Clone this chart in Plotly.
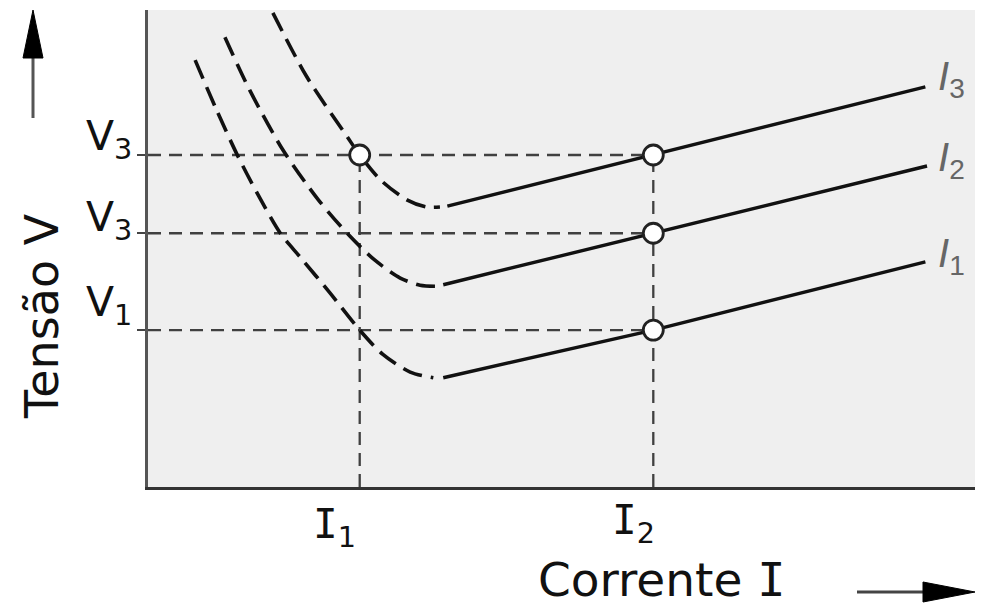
import plotly.graph_objects as go

# ---- data (arbitrary units: current 0..10, voltage 0..10) ----
I1, I2 = 2.56, 6.11
V1, V2, V3 = 3.29, 5.32, 6.96

# curve I3
i3_dash_x = [1.51, 1.92, 2.41, 2.56, 2.81, 3.13, 3.37, 3.53]
i3_dash_y = [9.94, 8.60, 7.34, 6.96, 6.44, 6.02, 5.87, 5.87]
i3_solid_x = [3.62, 6.11, 9.40]
i3_solid_y = [5.89, 6.96, 8.39]
# curve I2
i2_dash_x = [0.93, 1.23, 1.63, 2.06, 2.44, 2.74, 3.05, 3.29, 3.47]
i2_dash_y = [9.43, 8.32, 7.07, 6.02, 5.26, 4.76, 4.38, 4.23, 4.21]
i2_solid_x = [3.57, 6.11, 9.42]
i2_solid_y = [4.24, 5.32, 6.73]
# curve I1
i1_dash_x = [0.57, 0.83, 1.08, 1.32, 1.60, 1.84, 2.20, 2.56, 2.84, 3.17, 3.45]
i1_dash_y = [8.95, 7.90, 6.96, 6.16, 5.32, 4.82, 4.07, 3.29, 2.78, 2.41, 2.29]
i1_solid_x = [3.57, 6.11, 9.40]
i1_solid_y = [2.29, 3.29, 4.72]

circle_x = [I1, I2, I2, I2]
circle_y = [V3, V3, V2, V1]

curve_labels = ["<i>I</i><sub>3</sub>", "<i>I</i><sub>2</sub>", "<i>I</i><sub>1</sub>"]
curve_label_y = [8.55, 6.85, 4.85]
v_labels = ["V<sub>3</sub>", "V<sub>3</sub>", "V<sub>1</sub>"]
v_label_vals = [V3, V2, V1]
v_label_shift = [16, 13, 25]
SERIF_I = "<span style='font-family:DejaVu Sans Mono'>I</span>"
i_labels = [SERIF_I + "<sub>1</sub>", SERIF_I + "<sub>2</sub>"]
i_label_vals = [I1, I2]
i_label_ypx = [527, 523]
i_label_xshift = [-2, 4]

# ---- layout geometry (pixels) ----
W, H = 981, 605
L, R, T, B = 148, 975, 10, 487


def px(xp):
    return (xp - L) / (R - L)


def py(yp):
    return (B - yp) / (B - T)


fig = go.Figure()

ref_style = dict(color="#404040", width=2.3, dash="13px,8px")
for v in [V3, V2, V1]:
    fig.add_trace(go.Scatter(x=[0, I2], y=[v, v], mode="lines", line=ref_style,
                             hoverinfo="skip", showlegend=False))
for i in [I1, I2]:
    fig.add_trace(go.Scatter(x=[i, i], y=[0, V3], mode="lines", line=ref_style,
                             hoverinfo="skip", showlegend=False))

dash_style = dict(color="#111111", width=3.6, dash="20px,9px", shape="spline", smoothing=0.8)
solid_style = dict(color="#111111", width=3.4)
for dx, dy, sx, sy in [(i3_dash_x, i3_dash_y, i3_solid_x, i3_solid_y),
                       (i2_dash_x, i2_dash_y, i2_solid_x, i2_solid_y),
                       (i1_dash_x, i1_dash_y, i1_solid_x, i1_solid_y)]:
    fig.add_trace(go.Scatter(x=dx, y=dy, mode="lines", line=dash_style, showlegend=False))
    fig.add_trace(go.Scatter(x=sx, y=sy, mode="lines", line=solid_style, showlegend=False))

fig.add_trace(go.Scatter(x=circle_x, y=circle_y, mode="markers",
                         marker=dict(size=20, color="white", line=dict(color="#222", width=2.8)),
                         showlegend=False))

annotations = []
for txt, yv in zip(curve_labels, curve_label_y):
    annotations.append(dict(x=px(936), xref="paper", y=yv, yref="y", text=txt,
                            showarrow=False, xanchor="left", yanchor="middle",
                            font=dict(family="Liberation Sans", size=40, color="#666")))
for txt, yv, ys in zip(v_labels, v_label_vals, v_label_shift):
    annotations.append(dict(x=px(134), xref="paper", y=yv, yref="y", text=txt,
                            showarrow=False, xanchor="right", yanchor="middle", yshift=ys,
                            font=dict(family="DejaVu Sans", size=41, color="#111")))
for txt, xv, yp, xs in zip(i_labels, i_label_vals, i_label_ypx, i_label_xshift):
    annotations.append(dict(x=xv, xref="x", y=py(yp), yref="paper", text=txt,
                            showarrow=False, xanchor="right", yanchor="middle", xshift=xs,
                            font=dict(family="DejaVu Sans", size=41, color="#111")))
annotations.append(dict(x=px(662), xref="paper", y=py(579), yref="paper",
                        text="Corrente " + SERIF_I,
                        showarrow=False, xanchor="center", yanchor="middle",
                        font=dict(family="DejaVu Sans", size=47, color="#111")))
annotations.append(dict(x=px(42), xref="paper", y=py(316), yref="paper", text="Tensão V",
                        showarrow=False, textangle=-90, xanchor="center", yanchor="middle",
                        font=dict(family="DejaVu Sans", size=46, color="#111")))

shapes = [
    # up arrow
    dict(type="line", xref="paper", yref="paper", x0=px(33), x1=px(33), y0=py(118), y1=py(55),
         line=dict(color="#555", width=3)),
    dict(type="path", xref="paper", yref="paper",
         path=f"M {px(33)} {py(10)} L {px(23)} {py(58)} L {px(43)} {py(58)} Z",
         fillcolor="#000", line=dict(color="#000", width=1)),
    # right arrow
    dict(type="line", xref="paper", yref="paper", x0=px(857), x1=px(926), y0=py(592), y1=py(592),
         line=dict(color="#444", width=3)),
    dict(type="path", xref="paper", yref="paper",
         path=f"M {px(975)} {py(592)} L {px(923)} {py(582)} L {px(923)} {py(602)} Z",
         fillcolor="#000", line=dict(color="#000", width=1)),
]

fig.update_layout(
    width=W, height=H,
    margin=dict(l=L, r=W - R, t=T, b=H - B),
    paper_bgcolor="white", plot_bgcolor="#efefef",
    showlegend=False,
    annotations=annotations, shapes=shapes,
    xaxis=dict(range=[0, 10], showgrid=False, zeroline=False, showticklabels=False,
               showline=True, linecolor="#333", linewidth=3, ticks=""),
    yaxis=dict(range=[0, 10], showgrid=False, zeroline=False, showticklabels=False,
               showline=True, linecolor="#555", linewidth=3,
               tickvals=[V1, V2, V3], ticks="outside", ticklen=8, tickwidth=2, tickcolor="#444"),
)

fig.write_html("out.html", config={"displayModeBar": False},
               post_script="document.body.style.margin='0px';document.body.style.overflow='hidden';")
